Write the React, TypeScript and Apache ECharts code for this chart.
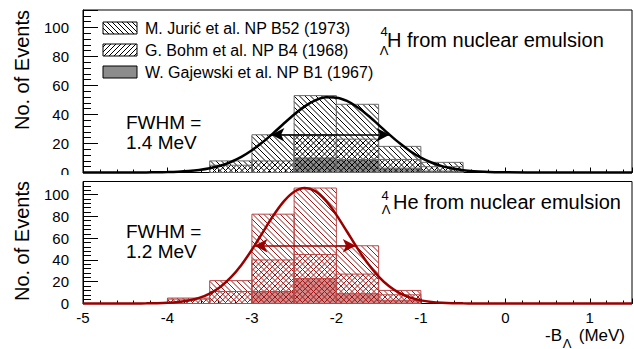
import React, { useEffect, useRef } from 'react';
import * as echarts from 'echarts';

// ---------------- data ----------------
const BIN_WIDTH = 0.5;

// 4ΛH (top panel)
const hBinStart = [-3.5, -3.0, -2.5, -2.0, -1.5, -1.0];
const hJuric = [3, 18, 27, 24, 9, 3];
const hBohm = [5, 8, 16, 14, 6, 3];
const hGajewski = [0, 0, 10, 9, 3, 1];

// 4ΛHe (bottom panel)
const heBinStart = [-4.0, -3.5, -3.0, -2.5, -2.0, -1.5];
const heJuric = [1, 10, 42, 61, 26, 4];
const heBohm = [4, 11, 29, 22, 18, 5];
const heGajewski = [0, 0, 11, 23, 9, 3];

// fit curves
const hFitX = [-5, -4.5, -4.25, -4.125, -4, -3.875, -3.75, -3.625, -3.5, -3.375, -3.25, -3.125, -3, -2.875, -2.75, -2.625, -2.5, -2.375, -2.25, -2.125, -2, -1.875, -1.75, -1.625, -1.5, -1.375, -1.25, -1.125, -1, -0.875, -0.75, -0.625, -0.5, -0.375, -0.25, -0.125, 0, 0.5, 1.5];
const hFitY = [0, 0.01, 0.06, 0.13, 0.27, 0.52, 0.96, 1.7, 2.88, 4.68, 7.25, 10.77, 15.3, 20.79, 27.0, 33.6, 40.0, 45.6, 49.7, 51.8, 51.6, 49.3, 45.0, 39.3, 32.8, 26.3, 20.1, 14.7, 10.3, 6.9, 4.42, 2.71, 1.59, 0.89, 0.48, 0.25, 0.12, 0, 0];
const heFitX = [-5, -4.5, -4.375, -4.25, -4.125, -4, -3.875, -3.75, -3.625, -3.5, -3.375, -3.25, -3.125, -3, -2.875, -2.75, -2.625, -2.5, -2.375, -2.25, -2.125, -2, -1.875, -1.75, -1.625, -1.5, -1.375, -1.25, -1.125, -1, -0.875, -0.75, -0.625, -0.5, -0.375, -0.25, -0.125, 0, 1.5];
const heFitY = [0, 0.02, 0.05, 0.12, 0.28, 0.64, 1.35, 2.7, 5.11, 9.1, 15.2, 23.9, 35.4, 49.4, 64.9, 80.3, 93.5, 102.6, 106.0, 103.1, 94.4, 81.4, 66.1, 50.6, 36.4, 24.7, 15.8, 9.5, 5.36, 2.86, 1.43, 0.68, 0.3, 0.13, 0.05, 0.02, 0.01, 0, 0];

// FWHM arrows
const hFwhmEnds = [-2.77, -1.37];
const hHalfMax = 26;
const heFwhmEnds = [-2.97, -1.77];
const heHalfMax = 53;

// axes
const X_MIN = -5;
const X_MAX = 1.5;
const Y_MAX = 112;

const legendLabels = ['M. Jurić et al. NP B52 (1973)', 'G. Bohm et al. NP B4 (1968)', 'W. Gajewski et al. NP B1 (1967)'];

// ---------------- helpers ----------------
const FONT = '"Liberation Sans", Arial, Helvetica, sans-serif';

type Seg = [number, number, number, number];

function hatch(x0: number, x1: number, yT: number, yB: number, s: number, dir: number): Seg[] {
  const out: Seg[] = [];
  if (yB - yT < 0.5 || x1 - x0 < 0.5) return out;
  if (dir === 1) {
    for (let k = Math.ceil((x0 - yB) / s); k <= Math.floor((x1 - yT) / s); k++) {
      const c = k * s;
      const xa = Math.max(x0, yT + c);
      const xb = Math.min(x1, yB + c);
      if (xb - xa > 0.3) out.push([xa, xa - c, xb, xb - c]);
    }
  } else {
    for (let k = Math.ceil((x0 + yT) / s); k <= Math.floor((x1 + yB) / s); k++) {
      const c = k * s;
      const xa = Math.max(x0, c - yB);
      const xb = Math.min(x1, c - yT);
      if (xb - xa > 0.3) out.push([xa, c - xa, xb, c - xb]);
    }
  }
  return out;
}

function lineEls(segs: Seg[], color: string, width: number) {
  return segs.map(([a, b, c, d]) => ({
    type: 'line',
    silent: true,
    shape: { x1: a, y1: b, x2: c, y2: d },
    style: { stroke: color, lineWidth: width },
  }));
}

interface Theme { hatch: string; outline: string; gajFill: string; curve: string; }
const topTheme: Theme = { hatch: '#000000', outline: '#6a6a6a', gajFill: '#8c8c8c', curve: '#000000' };
const botTheme: Theme = { hatch: '#a31515', outline: '#b84848', gajFill: '#d08c8c', curve: '#990000' };

const HATCH_S = 5.5;

function makeRenderItem(theme: Theme) {
  return (params: any, api: any) => {
    const lo = api.value(0);
    const hi = api.value(1);
    const g = api.value(2);
    const b = api.value(3);
    const t = api.value(4);
    const p0 = api.coord([lo, 0]);
    const p1 = api.coord([hi, 0]);
    const x0 = p0[0];
    const x1 = p1[0];
    const yBase = p0[1];
    const yG = api.coord([lo, g])[1];
    const yB = api.coord([lo, b])[1];
    const yT = api.coord([lo, t])[1];
    const children: any[] = [];
    if (g > 0) {
      children.push({ type: 'rect', shape: { x: x0, y: yG, width: x1 - x0, height: yBase - yG }, style: { fill: theme.gajFill } });
    }
    children.push(...lineEls(hatch(x0, x1, yT, yBase, HATCH_S, 1), theme.hatch, 1));
    if (b > 0) children.push(...lineEls(hatch(x0, x1, yB, yBase, HATCH_S, -1), theme.hatch, 1));
    [t, b, g].forEach((v, i) => {
      if (v <= 0) return;
      const yy = [yT, yB, yG][i];
      children.push({ type: 'rect', shape: { x: x0, y: yy, width: x1 - x0, height: yBase - yy }, style: { fill: 'none', stroke: theme.outline, lineWidth: 1 } });
    });
    return { type: 'group', children };
  };
}

function histData(starts: number[], juric: number[], bohm: number[], gaj: number[]) {
  return starts.map((lo, i) => [lo, lo + BIN_WIDTH, gaj[i], gaj[i] + bohm[i], gaj[i] + bohm[i] + juric[i]]);
}

function mainX(gridIndex: number, showLabels: boolean) {
  return {
    type: 'value', gridIndex, min: X_MIN, max: X_MAX, interval: 1,
    axisLine: { show: true, onZero: false, lineStyle: { color: '#000', width: 1 } },
    axisTick: { show: true, inside: true, length: 5, lineStyle: { color: '#000', width: 1 } },
    axisLabel: {
      show: showLabels, color: '#000', fontSize: 15, fontFamily: FONT, margin: 6,
      formatter: (v: number) => (Math.abs(v - Math.round(v)) < 1e-6 ? String(Math.round(v)) : ''),
    },
    splitLine: { show: false },
  };
}
function minorX(gridIndex: number) {
  return {
    type: 'value', gridIndex, min: X_MIN, max: X_MAX, interval: 0.2,
    axisLine: { show: false, onZero: false }, axisLabel: { show: false }, splitLine: { show: false },
    axisTick: { show: true, inside: true, length: 3, lineStyle: { color: '#000', width: 1 } },
  };
}
function mainY(gridIndex: number) {
  return {
    type: 'value', gridIndex, min: 0, max: Y_MAX, interval: 20,
    axisLine: { show: true, onZero: false, lineStyle: { color: '#000', width: 1 } },
    axisTick: { show: true, inside: true, length: 15, lineStyle: { color: '#000', width: 1 } },
    axisLabel: {
      color: '#000', fontSize: 15, fontFamily: FONT, margin: 14,
      formatter: (v: number) => (v % 20 === 0 && v <= 100 ? String(v) : ''),
    },
    splitLine: { show: false },
  };
}
function minorY(gridIndex: number) {
  return {
    type: 'value', gridIndex, min: 0, max: Y_MAX, interval: 4,
    axisLine: { show: false, onZero: false }, axisLabel: { show: false }, splitLine: { show: false },
    axisTick: { show: true, inside: true, length: 8, lineStyle: { color: '#000', width: 1 } },
  };
}

function fitSeries(xIdx: number, xs: number[], ys: number[], ends: number[], half: number, color: string) {
  return {
    type: 'line', xAxisIndex: xIdx, yAxisIndex: xIdx, z: 5, clip: false,
    data: xs.map((x, i) => [x, ys[i]]),
    smooth: 0.3, symbol: 'none', silent: true,
    lineStyle: { color, width: 2.5 },
    markLine: {
      silent: true, symbol: ['arrow', 'arrow'], symbolSize: [10, 13],
      label: { show: false },
      lineStyle: { color, width: 1.5, type: 'solid' },
      emphasis: { disabled: true },
      data: [[{ coord: [ends[0], half] }, { coord: [ends[1], half] }]],
    },
  };
}

function legendGraphics() {
  const els: any[] = [];
  const rowsY = [28, 50, 72];
  const bx0 = 103, bx1 = 137, bh = 12;
  rowsY.forEach((cy, i) => {
    const y0 = cy - bh / 2, y1 = cy + bh / 2;
    els.push({ type: 'rect', shape: { x: bx0, y: y0, width: bx1 - bx0, height: bh }, style: { fill: i === 2 ? '#8c8c8c' : '#fff', stroke: 'none' } });
    if (i === 0) els.push(...lineEls(hatch(bx0, bx1, y0, y1, 5, 1), '#000', 1));
    if (i === 1) els.push(...lineEls(hatch(bx0, bx1, y0, y1, 5, -1), '#000', 1));
    els.push({ type: 'rect', shape: { x: bx0, y: y0, width: bx1 - bx0, height: bh }, style: { fill: 'none', stroke: '#000', lineWidth: 1 } });
    els.push({ type: 'text', x: 145, y: cy, style: { text: legendLabels[i], font: `16px ${FONT}`, fill: '#000', textAlign: 'left', textVerticalAlign: 'middle' } });
  });
  return els;
}

function txt(text: string, x: number, y: number, size: number, align = 'left', extra: any = {}) {
  return { type: 'text', x, y, silent: true, ...extra, style: { text, font: `${size}px ${FONT}`, fill: '#000', textAlign: align, textVerticalAlign: 'middle' } };
}

export default function App() {
  const ref = useRef<HTMLDivElement>(null);
  useEffect(() => {
    document.body.style.margin = '0';
    if (!ref.current) return;
    const chart = echarts.init(ref.current, null, { renderer: 'svg' });
    const option: any = {
      animation: false,
      grid: [
        { left: 83, right: 2, top: 10, height: 162.5, show: true, borderColor: '#000', borderWidth: 1, outerBoundsMode: 'none' },
        { left: 83, right: 2, top: 181.5, height: 122, show: true, borderColor: '#000', borderWidth: 1, outerBoundsMode: 'none' },
        { left: 83, right: 2, top: 10, height: 162.5, show: false, outerBoundsMode: 'none' },
        { left: 83, right: 2, top: 181.5, height: 122, show: false, outerBoundsMode: 'none' },
      ],
      xAxis: [mainX(0, false), mainX(1, true), minorX(2), minorX(3)],
      yAxis: [mainY(0), mainY(1), minorY(2), minorY(3)],
      series: [
        {
          type: 'custom', xAxisIndex: 0, yAxisIndex: 0, z: 1, silent: true,
          renderItem: makeRenderItem(topTheme),
          encode: { x: [0, 1], y: [4] },
          data: histData(hBinStart, hJuric, hBohm, hGajewski),
        },
        {
          type: 'custom', xAxisIndex: 1, yAxisIndex: 1, z: 1, silent: true,
          renderItem: makeRenderItem(botTheme),
          encode: { x: [0, 1], y: [4] },
          data: histData(heBinStart, heJuric, heBohm, heGajewski),
        },
        fitSeries(0, hFitX, hFitY, hFwhmEnds, hHalfMax, topTheme.curve),
        fitSeries(1, heFitX, heFitY, heFwhmEnds, heHalfMax, botTheme.curve),
      ],
      graphic: [
        ...legendGraphics(),
        // cover lower half of the top panel's "0" label (hidden under lower pad)
        { type: 'rect', z: 100, silent: true, shape: { x: 0, y: 175, width: 82, height: 6 }, style: { fill: '#fff' } },
        // panel titles
        txt('4', 384, 31, 13, 'center'),
        txt('Λ', 384, 50, 13, 'center'),
        txt('H from nuclear emulsion', 387, 40, 20),
        txt('4', 385, 195.5, 13, 'center'),
        txt('Λ', 386, 209.5, 13, 'center'),
        txt('He from nuclear emulsion', 393, 202, 20),
        // FWHM
        txt('FWHM =', 126, 122.5, 19),
        txt('1.4 MeV', 126, 142.5, 19),
        txt('FWHM =', 126, 231.5, 19),
        txt('1.2 MeV', 126, 251.5, 19),
        // y titles
        txt('No. of Events', 22, 10, 20, 'right', { rotation: Math.PI / 2 }),
        txt('No. of Events', 22, 181, 20, 'right', { rotation: Math.PI / 2 }),
        // x title
        txt('(MeV)', 625, 335.5, 17, 'right'),
        txt('Λ', 567, 343, 13, 'center'),
        txt('-B', 562, 335.5, 17, 'right'),
      ],
    };
    chart.setOption(option);
    return () => chart.dispose();
  }, []);
  return <div ref={ref} style={{ width: 634, height: 349 }} />;
}
